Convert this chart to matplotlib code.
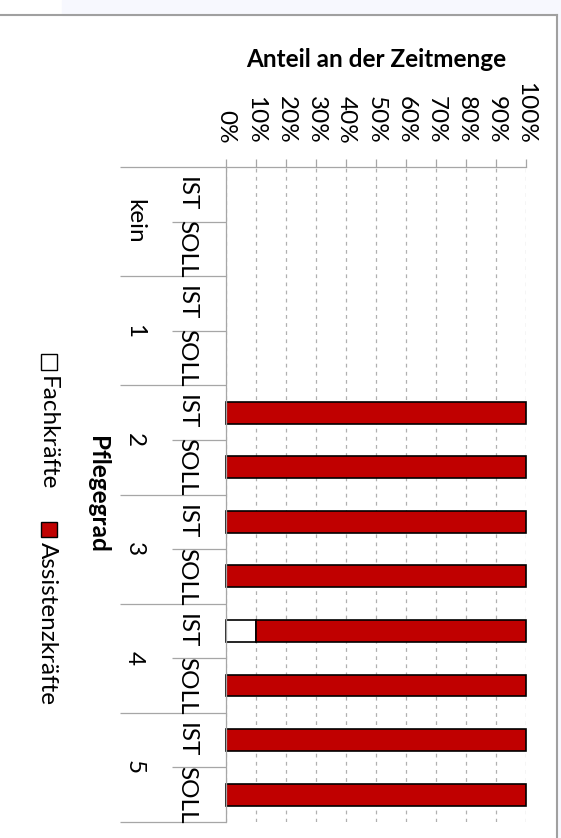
import matplotlib
matplotlib.use('Agg')
import matplotlib.pyplot as plt
import numpy as np
from matplotlib.patches import Rectangle
from matplotlib.lines import Line2D

plt.rcParams['font.family'] = ['Lato', 'DejaVu Sans']

# data (Anteil in %), order: kein IST, kein SOLL, 1 IST, 1 SOLL, ...
pflegegrad = ['kein', '1', '2', '3', '4', '5']
varianten = ['IST', 'SOLL']
fachkraefte = [np.nan, np.nan, np.nan, np.nan, 0, 0, 0, 0, 10, 0, 0, 0]
assistenzkraefte = [np.nan, np.nan, np.nan, np.nan, 100, 100, 100, 100, 90, 100, 100, 100]
ticks = list(range(0, 101, 10))

W, H = 561, 838
FS = 17.5
GREY = '#a6a6a6'
RED = '#c00000'

fig = plt.figure(figsize=(W / 100, H / 100), dpi=100)

# outer frame / background band
fig.patches.append(Rectangle((62 / W, 1 - 15 / H), 1, 15 / H, transform=fig.transFigure,
                             color='#f7f8fe', zorder=0))
fig.patches.append(Rectangle((558 / W, 0), 1, 1, transform=fig.transFigure,
                             color='#f7f8fe', zorder=0))
fig.add_artist(Line2D([0, 557 / W], [1 - 15.5 / H] * 2, color='#a0a0a0', lw=1.5))
fig.add_artist(Line2D([557 / W] * 2, [1 - 15.5 / H, 0], color='#a0a0a0', lw=1.5))

ax = fig.add_axes([226 / W, 1 - 822 / H, 300 / W, 655 / H])
ax.set_facecolor('none')

y = np.arange(len(fachkraefte))
fach = np.array(fachkraefte, dtype=float)
assi = np.array(assistenzkraefte, dtype=float)
fach_draw = np.where(fach > 0, fach, np.nan)

ax.barh(y, fach_draw, height=0.4, color='white', edgecolor='black', lw=1.2,
        clip_on=False, zorder=3)
ax.barh(y, assi, left=np.nan_to_num(fach), height=0.4, color=RED, edgecolor='black',
        lw=1.2, clip_on=False, zorder=3)

ax.set_xlim(0, 100)
ax.set_ylim(len(y) - 0.5, -0.5)

for s in ['right', 'bottom']:
    ax.spines[s].set_visible(False)
for s in ['top', 'left']:
    ax.spines[s].set_color(GREY)
    ax.spines[s].set_linewidth(0.9)
ax.spines['left'].set_zorder(4)

ax.xaxis.tick_top()
ax.set_xticks(ticks)
ax.set_xticklabels([f'{t}%' for t in ticks])
ax.tick_params(axis='x', direction='out', length=5.8, width=0.9, color=GREY,
               labelsize=FS, labelrotation=-90, pad=11)
ax.set_yticks([])
ax.xaxis.grid(True, linestyle=(0, (3, 3.5)), color='#b0b0b0', lw=0.9)
ax.set_axisbelow(True)

# category dividers
ax.hlines(np.arange(-0.5, len(y), 2), -35.3, 0, color=GREY, lw=0.9, clip_on=False)
ax.hlines(np.arange(0.5, len(y), 2), -18, 0, color=GREY, lw=0.9, clip_on=False)

# category labels
for i in y:
    ax.text(-15.3, i, varianten[i % 2], rotation=-90, rotation_mode='anchor',
            ha='center', va='baseline', fontsize=FS, clip_on=False)
for g, name in enumerate(pflegegrad):
    ax.text(-32.7, 2 * g + 0.5, name, rotation=-90, rotation_mode='anchor',
            ha='center', va='baseline', fontsize=FS, clip_on=False)
ax.text(-45.3, (len(y) - 1) / 2, 'Pflegegrad', rotation=-90, rotation_mode='anchor',
        ha='center', va='baseline', fontsize=FS, fontweight='bold', clip_on=False)

# title
fig.text(376 / W, 1 - 67 / H, 'Anteil an der Zeitmenge', ha='center', va='baseline',
         fontsize=FS, fontweight='bold')

# legend (rotated)
fig.patches.append(Rectangle((41 / W, 1 - 370 / H), 16 / W, 16 / H, transform=fig.transFigure,
                             facecolor='white', edgecolor='black', lw=1))
fig.text(41 / W, 1 - 376 / H, 'Fachkräfte', rotation=-90, rotation_mode='anchor',
         ha='left', va='baseline', fontsize=FS)
fig.patches.append(Rectangle((41 / W, 1 - 537 / H), 16 / W, 15 / H, transform=fig.transFigure,
                             facecolor=RED, edgecolor='black', lw=1))
fig.text(41 / W, 1 - 542 / H, 'Assistenzkräfte', rotation=-90, rotation_mode='anchor',
         ha='left', va='baseline', fontsize=FS)

fig.savefig('out.png', dpi=100)
